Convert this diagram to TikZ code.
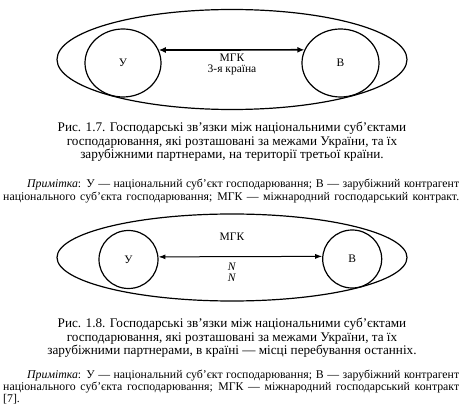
\documentclass[tikz,border=0pt]{standalone}
\usepackage{fontspec}
\setmainfont{Liberation Serif}
\usetikzlibrary{shapes.geometric,arrows.meta}
\begin{document}
\begin{tikzpicture}[x=1pt,y=1pt,
  outer/.style={ellipse,draw,line width=1.2pt,inner sep=0pt},
  party/.style={ellipse,draw,line width=1.2pt,inner sep=0pt,font=\fontsize{11.5}{13}\selectfont},
  lbl/.style={font=\fontsize{11.5}{12}\selectfont,inner sep=0pt},
  biglink/.style={line width=1.7pt,{Latex[length=7pt,width=6pt]}-{Latex[length=7pt,width=6pt]}},
  link/.style={line width=1pt,{Latex[length=7pt,width=5pt]}-{Latex[length=7pt,width=5pt]}},
  capt/.style={align=center,font=\fontsize{13.2}{13.5}\selectfont,inner sep=0pt},
  note/.style={align=left,font=\fontsize{11.8}{12.2}\selectfont,inner sep=0pt,anchor=west}]
\useasboundingbox (0,0) rectangle (467,-406);
% ---------- figure 1.7
\node[outer,minimum width=350pt,minimum height=100pt] (e1) at (232,-59.5) {};
\node[party,minimum width=76pt,minimum height=68pt] (u1) at (123,-63) {У};
\node[party,minimum width=77pt,minimum height=68pt] (v1) at (340.5,-63) {В};
\draw[biglink] (u1.20) -- (v1.160);
\node[lbl] (m1) at (232,-58) {МГК};
\node[lbl] (t1) at (232,-70) {3-я країна};
\node[capt] (c1) at (232,-142) {Рис. 1.7. Господарські зв’язки між національними суб’єктами\\
господарювання, які розташовані за межами України, та їх\\
зарубіжними партнерами, на території третьої країни.};
\node[note] (n1) at (3,-191) {\makebox[456pt][s]{\hspace*{24pt}\textit{Примітка}: У — національний суб’єкт господарювання; В — зарубіжний контрагент}\\
\makebox[456pt][s]{національного суб’єкта господарювання; МГК — міжнародний господарський контракт.}};
% ---------- figure 1.8
\node[outer,minimum width=350pt,minimum height=87pt] (e2) at (232,-257.5) {};
\node[party,minimum width=59pt,minimum height=58pt] (u2) at (128.5,-259.5) {У};
\node[party,minimum width=59pt,minimum height=58pt] (v2) at (352.2,-259) {В};
\draw[link] (u2.5) -- (v2.175);
\node[lbl] (m2) at (232,-237) {МГК};
\node[lbl] (p2) at (232,-267) {\textit{N}};
\node[lbl] (q2) at (232,-278) {\textit{N}};
\node[capt] (c2) at (232,-338) {Рис. 1.8. Господарські зв’язки між національними суб’єктами\\
господарювання, які розташовані за межами України, та їх\\
зарубіжними партнерами, в країні — місці перебування останніх.};
\node[note] (n2) at (3,-387) {\makebox[456pt][s]{\hspace*{24pt}\textit{Примітка}: У — національний суб’єкт господарювання; В — зарубіжний контрагент}\\
\makebox[456pt][s]{національного суб’єкта господарювання; МГК — міжнародний господарський контракт}\\
{[7].}};
\end{tikzpicture}
\end{document}
